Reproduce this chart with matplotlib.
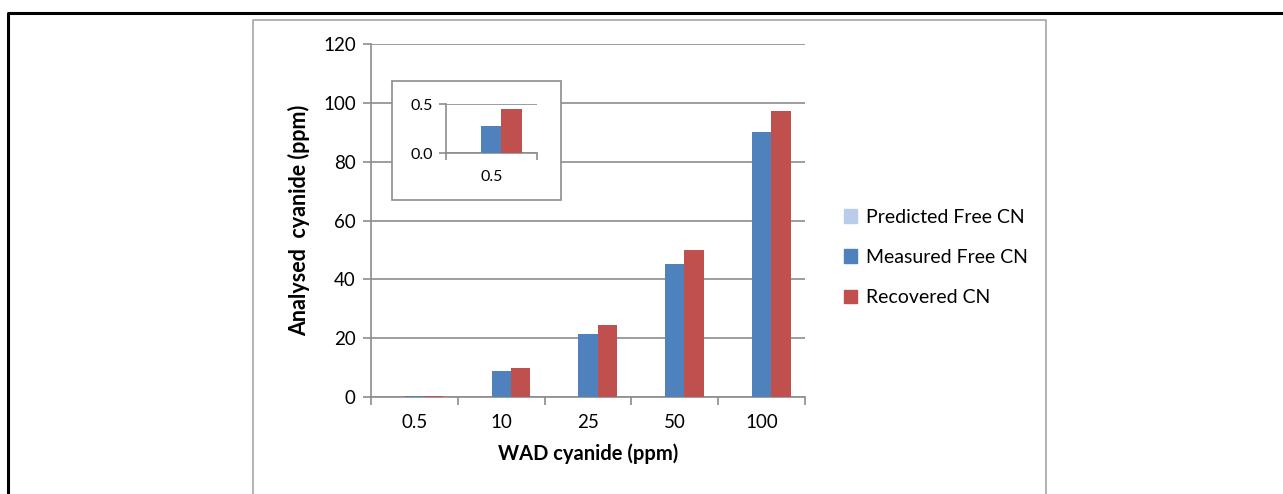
import numpy as np
import matplotlib
matplotlib.use("Agg")
import matplotlib.pyplot as plt
from matplotlib.lines import Line2D
from matplotlib.patches import Rectangle

plt.rcParams['font.family'] = ['Lato', 'DejaVu Sans']

# Data
categories = ["0.5", "10", "25", "50", "100"]
predicted_free_cn = [0.0, 0.0, 0.0, 0.0, 0.0]
measured_free_cn = [0.28, 8.8, 21.4, 45.2, 90.2]
recovered_cn = [0.45, 10.0, 24.5, 50.0, 97.3]
series_names = ["Predicted Free CN", "Measured Free CN", "Recovered CN"]
y_ticks = [0, 20, 40, 60, 80, 100, 120]
inset_ticks = [0.0, 0.5]

C_PRED = "#B9CDEA"
C_MEAS = "#4F81BD"
C_REC = "#C0504D"
C_GRID = "#8C8C8C"

W, H = 1283, 494
fig = plt.figure(figsize=(W / 100, H / 100), dpi=100)


def fx(px):
    return px / W


def fy(py):
    return 1 - py / H


def style_axes(ax):
    for side in ("top", "right"):
        ax.spines[side].set_visible(False)
    for side in ("left", "bottom"):
        ax.spines[side].set_color(C_GRID)
        ax.spines[side].set_linewidth(1.2)
    ax.tick_params(axis="both", colors=C_GRID, length=6, width=1.2,
                   labelcolor="black")


# Main chart
ax = fig.add_axes([fx(371), fy(397), fx(805 - 371), (397 - 44) / H])
x = np.arange(len(categories))
w = 1 / 4.5
ax.bar(x - w, predicted_free_cn, w, color=C_PRED, label=series_names[0], zorder=3)
ax.bar(x, measured_free_cn, w, color=C_MEAS, label=series_names[1], zorder=3)
ax.bar(x + w, recovered_cn, w, color=C_REC, label=series_names[2], zorder=3)
ax.set_xlim(-0.5, len(categories) - 0.5)
ax.set_ylim(0, 120)
ax.set_yticks(y_ticks)
ax.set_xticks(x)
ax.set_xticklabels(categories)
ax.set_xticks(np.arange(len(categories) + 1) - 0.5, minor=True)
ax.yaxis.grid(True, color=C_GRID, linewidth=1.2, zorder=0)
ax.set_axisbelow(True)
style_axes(ax)
ax.tick_params(axis="x", which="major", length=0, labelsize=13.5, pad=12)
ax.tick_params(axis="x", which="minor", length=6, width=1.2, colors=C_GRID)
ax.tick_params(axis="y", labelsize=13.5, length=6, width=1.2, colors=C_GRID,
               labelcolor="black", pad=5)
ax.set_xlabel("WAD cyanide (ppm)", fontsize=14.5, fontweight="bold", labelpad=9)
ax.set_ylabel("Analysed  cyanide (ppm)", fontsize=15.5, fontweight="bold", labelpad=9)

# Legend
handles = [Rectangle((0, 0), 1, 1, color=c) for c in (C_PRED, C_MEAS, C_REC)]
fig.legend(handles, series_names, loc="center left",
           bbox_to_anchor=(fx(826), fy(257.5)), frameon=False, fontsize=14,
           handlelength=0.7, handleheight=0.7, handletextpad=0.45,
           labelspacing=1.2)

# Inset box with the 0.5 ppm detail
fig.patches.append(Rectangle((fx(392), fy(200)), fx(561 - 392), (200 - 81) / H,
                             transform=fig.transFigure, facecolor="white",
                             edgecolor=C_GRID, linewidth=1.2, zorder=2))
ins = fig.add_axes([fx(445.7), fy(153.3), fx(537 - 445.7), (153.3 - 104) / H],
                   zorder=5)
ins.patch.set_alpha(0)
xi = np.array([0])
ins.bar(xi - w, predicted_free_cn[:1], w, color=C_PRED, zorder=3)
ins.bar(xi, measured_free_cn[:1], w, color=C_MEAS, zorder=3)
ins.bar(xi + w, recovered_cn[:1], w, color=C_REC, zorder=3)
ins.set_xlim(-0.5, 0.5)
ins.set_ylim(0, 0.5)
ins.set_yticks(inset_ticks)
ins.set_yticklabels([f"{v:.1f}" for v in inset_ticks])
ins.set_xticks([0])
ins.set_xticklabels(categories[:1])
ins.set_xticks([-0.5, 0.5], minor=True)
ins.yaxis.grid(True, color=C_GRID, linewidth=1.2, zorder=0)
ins.set_axisbelow(True)
style_axes(ins)
ins.tick_params(axis="x", which="major", length=0, labelsize=11.5, pad=12)
ins.tick_params(axis="x", which="minor", length=5, width=1.2, colors=C_GRID)
ins.tick_params(axis="y", labelsize=11.5, length=5, width=1.2, colors=C_GRID,
                labelcolor="black", pad=4)

# Frames around the chart
fig.add_artist(Line2D([fx(253), fx(253), fx(1046), fx(1046)],
                      [0, fy(20), fy(20), 0], transform=fig.transFigure,
                      color="#A6A6A6", linewidth=1.2))
fig.add_artist(Line2D([fx(8), fx(8), 1], [0, fy(13), fy(13)],
                      transform=fig.transFigure, color="black", linewidth=2.2))

fig.savefig("out.png", dpi=100)
